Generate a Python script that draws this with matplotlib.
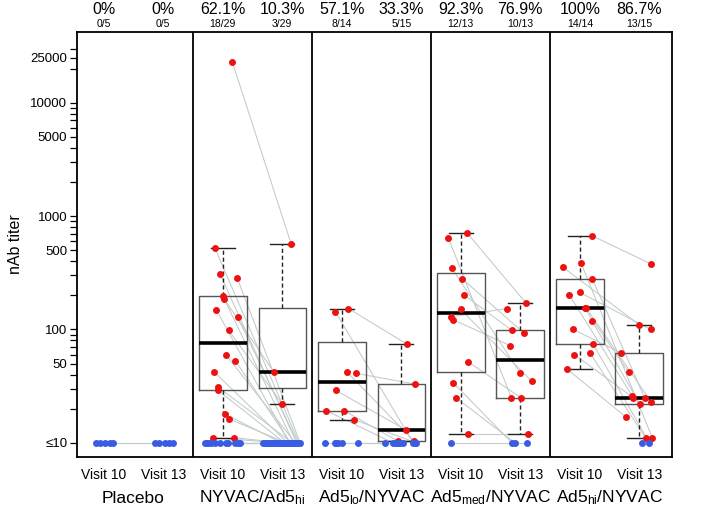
import numpy as np
import matplotlib.pyplot as plt
from matplotlib.ticker import NullFormatter
from matplotlib.transforms import blended_transform_factory

plt.rcParams['font.family'] = ['Liberation Sans', 'DejaVu Sans']
plt.rcParams['mathtext.fontset'] = 'custom'
plt.rcParams['mathtext.rm'] = 'Liberation Sans'
plt.rcParams['mathtext.it'] = 'Liberation Sans:italic'

nan = np.nan

# groupes et visites
groupes = ['Placebo', r'NYVAC/Ad5$_{\mathrm{hi}}$', r'Ad5$_{\mathrm{lo}}$/NYVAC',
           r'Ad5$_{\mathrm{med}}$/NYVAC', r'Ad5$_{\mathrm{hi}}$/NYVAC']
visites = ['Visit 10', 'Visit 13']

# titres nAb par sujet (10 = <=10, nan = pas de mesure)
v10_pla = [10, 10, 10, 10, 10]
v13_pla = [10, 10, 10, 10, 10]

v10_ny = [22900, 518, 311, 286, 197, 186, 149, 128, 98, 59, 53, 42, 31, 29, 18, 16.2, 11.1, 11.1,
          10, 10, 10, 10, 10, 10, 10, 10, 10, 10, 10]
v13_ny = [565, 10, 10, 10, 10, 42, 10, 10, 22, 10, 10, 10, 10, 10, 10, 10, 10, 10,
          10, 10, 10, 10, 10, 10, 10, 10, 10, 10, 10]

v10_lo = [144, 153, 42, 41, 29, 19.2, 19.2, 16, 10, 10, 10, 10, 10, 10, nan]
v13_lo = [10, 74, 10.3, 33, 13, 10, 10.3, 10, 10, 10, 10, 10, 10, 10, 10]

v10_med = [706, 642, 348, 281, 201, 150, 129, 122, 52, 34, 25, 12, 10]
v13_med = [170, 25, 41, 93, 98, 35, 153, 72, 25, 10, 10, 12, 10]

v10_hi = [669, 356, 386, 279, 212, 203, 154, 154, 118, 100, 75, 60, 62, 45, nan]
v13_hi = [378, 110, 11, 25, 100, 26, 23, 42, 22, 62, 10, 25, 11, 17, 10]

# decalage horizontal des points
j10_pla = [-0.13, -0.07, 0.02, 0.10, 0.15]
j13_pla = [-0.14, -0.07, 0.03, 0.10, 0.16]
j10_ny = [0.16, -0.13, -0.05, 0.24, 0.00, 0.02, -0.11, 0.25, 0.10, 0.06, 0.21, -0.14, -0.08, -0.08,
          0.03, 0.11, -0.17, 0.19, -0.30, -0.27, -0.25, -0.19, -0.13, -0.05, 0.06, 0.09, 0.20, 0.26, 0.29]
j13_ny = [0.15, 0.28, 0.24, 0.30, 0.19, -0.14, 0.12, 0.26, 0.00, 0.22, 0.14, 0.09, 0.17, 0.04,
          -0.01, 0.07, -0.03, 0.02, -0.32, -0.29, -0.26, -0.24, -0.21, -0.19, -0.16, -0.13, -0.11, -0.08, -0.06]
j10_lo = [-0.11, 0.11, 0.09, 0.24, -0.10, -0.26, 0.04, 0.21, -0.29, -0.12, -0.09, -0.06, 0.00, 0.27, nan]
j13_lo = [0.20, 0.10, 0.22, 0.23, 0.08, -0.14, -0.05, 0.25, -0.28, -0.11, -0.08, -0.05, -0.03, 0.03, 0.23]
j10_med = [0.11, -0.21, -0.15, 0.02, 0.06, 0.00, -0.17, -0.13, 0.12, -0.13, -0.08, 0.12, -0.17]
j13_med = [0.10, -0.15, 0.00, 0.06, -0.14, 0.19, -0.22, -0.17, 0.01, -0.14, -0.09, 0.13, 0.11]
j10_hi = [0.21, -0.29, 0.02, 0.21, 0.00, -0.18, 0.11, 0.08, 0.21, -0.11, 0.22, -0.09, 0.17, -0.22, nan]
j13_hi = [0.20, 0.00, 0.22, 0.09, 0.19, -0.12, 0.20, -0.18, 0.01, -0.30, 0.17, -0.10, 0.11, -0.23, 0.04]

donnees = [(v10_pla, v13_pla, j10_pla, j13_pla),
           (v10_ny, v13_ny, j10_ny, j13_ny),
           (v10_lo, v13_lo, j10_lo, j13_lo),
           (v10_med, v13_med, j10_med, j13_med),
           (v10_hi, v13_hi, j10_hi, j13_hi)]

rouge = '#EE1111'
bleu = '#3A5BE3'
gris = '#C2CACA'


def fivenum(x):
    x = np.sort(x)
    n = len(x)
    n4 = np.floor((n + 3) / 2) / 2
    d = np.array([1, n4, (n + 1) / 2, n + 1 - n4, n]) - 1
    return 0.5 * (x[np.floor(d).astype(int)] + x[np.ceil(d).astype(int)])


def stats_boite(vals):
    # boxplot a la R, calcule sur log10 des titres positifs
    lv = np.log10(vals)
    s = fivenum(lv)
    iqr = s[3] - s[1]
    garde = lv[(lv >= s[1] - 1.5 * iqr) & (lv <= s[3] + 1.5 * iqr)]
    return dict(med=10 ** s[2], q1=10 ** s[1], q3=10 ** s[3],
                whislo=10 ** garde.min(), whishi=10 ** garde.max(), fliers=[])


fig = plt.figure(figsize=(7.24, 5.15), dpi=100)
ax = fig.add_axes([0.1064, 0.1126, 0.8218, 0.8252])
ax.set_yscale('log')

stats = []
pos_boites = []
haut = blended_transform_factory(ax.transData, ax.transAxes)

for i, (a, b, ja, jb) in enumerate(donnees):
    a = np.array(a, float)
    b = np.array(b, float)
    p10 = 2 * i + 1
    p13 = 2 * i + 2
    x10 = p10 + np.array(ja, float)
    x13 = p13 + np.array(jb, float)

    # lignes entre visites
    for k in range(len(a)):
        if not np.isnan(a[k]) and not np.isnan(b[k]):
            ax.plot([x10[k], x13[k]], [a[k], b[k]], color=gris, lw=0.75, zorder=1)

    for vals, xs, p in [(a, x10, p10), (b, x13, p13)]:
        ok = ~np.isnan(vals)
        pos = ok & (vals > 10)
        neg = ok & (vals <= 10)
        ax.scatter(xs[pos], vals[pos], s=25, color=rouge, lw=0, zorder=3)
        ax.scatter(xs[neg], vals[neg], s=25, color=bleu, lw=0, zorder=4)
        if pos.sum() > 0:
            stats.append(stats_boite(vals[pos]))
            pos_boites.append(p)

        # pourcentage de repondeurs
        k = pos.sum()
        n = ok.sum()
        pct = 100 * k / n
        txt = f'{pct:.0f}%' if abs(pct - round(pct)) < 1e-9 else f'{pct:.1f}%'
        ax.text(p, 1.052, txt, transform=haut, ha='center', va='center', fontsize=11.5)
        ax.text(p, 1.02, f'{k}/{n}', transform=haut, ha='center', va='center', fontsize=7.5)

    ax.text(p10 + 0.5, -0.0965, groupes[i], transform=haut, ha='center', va='center', fontsize=12.5)

ax.bxp(stats, positions=pos_boites, widths=0.8, capwidths=0.4, showfliers=False,
       boxprops=dict(color='#555555', lw=1.0),
       medianprops=dict(color='black', lw=2.6, solid_capstyle='butt'),
       whiskerprops=dict(color='#222222', lw=1.0, ls=(0, (3, 2))),
       capprops=dict(color='#222222', lw=1.0), zorder=2)

# separations entre groupes
for xs in [2.5, 4.5, 6.5, 8.5]:
    ax.axvline(xs, color='black', lw=1.3, zorder=5)

ax.set_xlim(0.55, 10.55)
ax.set_ylim(7.5, 42000)

ax.set_xticks(range(1, 11), labels=visites * 5)
ax.tick_params(axis='x', length=0, pad=8, labelsize=10)

ax.set_yticks([10, 50, 100, 500, 1000, 5000, 10000, 25000],
              labels=['≤10', '50', '100', '500', '1000', '5000', '10000', '25000'])
ax.set_yticks([20, 30, 40, 60, 70, 80, 90, 200, 300, 400, 600, 700, 800, 900,
               2000, 3000, 4000, 6000, 7000, 8000, 9000, 20000, 30000], minor=True)
ax.yaxis.set_minor_formatter(NullFormatter())
ax.tick_params(axis='y', which='both', length=5, width=0.9, pad=2, labelsize=9.5)

for sp in ax.spines.values():
    sp.set_linewidth(1.3)

fig.text(15 / 724, 0.525, 'nAb titer', rotation=90, ha='center', va='center', fontsize=11.5)

plt.savefig('out.png', dpi=100)
